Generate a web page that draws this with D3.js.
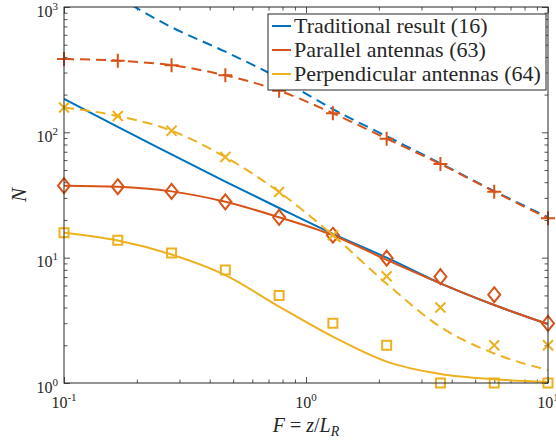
<!DOCTYPE html>
<html><head><meta charset="utf-8">
<script src="https://cdn.jsdelivr.net/npm/d3@7"></script>
<style>
html,body{margin:0;padding:0;background:#fff;}
svg text{font-family:"Liberation Serif","Times New Roman","DejaVu Serif",serif !important;fill:#262626;}
</style></head>
<body><div id="chart"></div>
<script>
// ---- data ----
const F = [0.1, 0.1668, 0.2783, 0.4642, 0.7743, 1.2915, 2.1544, 3.5938, 5.9948, 10];
const tradSolid   = [185, 110.5, 66.7, 40.4, 24.9, 15.5, 10.0, 6.24, 4.19, 2.95];
const tradDashedF = [0.1668, 0.2783, 0.4642, 0.7743, 1.2915, 2.1544, 3.5938, 5.9948, 10];
const tradDashed  = [1200, 690, 440, 270, 153, 93, 56.5, 34, 21];
const parSolid    = [37.5, 36.8, 33.8, 27.9, 21.0, 15.1, 9.6, 6.24, 4.19, 2.95];
const parDashed   = [385, 373, 343, 285, 215, 142, 89, 55.8, 33.6, 20.6];
const parDiamond  = [37.5, 36.8, 33.8, 27.9, 21.0, 15.1, 9.9, 7.05, 5.06, 2.99];
const parPlus     = [385, 373, 343, 285, 215, 142, 89, 55.8, 33.6, 20.6];
const perpSolid   = [15.8, 13.7, 10.6, 7.26, 4.07, 2.34, 1.48, 1.18, 1.07, 1.02];
const perpDashed  = [158, 135, 103, 63.5, 33.4, 15.1, 6.2, 2.8, 1.72, 1.27];
const perpSquare  = [15.8, 13.8, 10.9, 7.96, 5.0, 3.0, 2.0, 1.0, 1.0, 1.0];
const perpCross   = [158, 135, 103, 63.5, 33.4, 15.1, 7.1, 4.0, 2.0, 2.0];
const legendLabels = ["Traditional result (16)", "Parallel antennas (63)", "Perpendicular antennas (64)"];
const xTickExp = [-1, 0, 1];
const yTickExp = [0, 1, 2, 3];

const colors = ["#0072BD", "#D95319", "#EDB120"];
const W = 556, H = 440;
const L = 64, R = 548, T = 7, B = 383;
const FONT = '"Liberation Serif","Times New Roman","DejaVu Serif",serif';

const svg = d3.select("#chart").append("svg").attr("width", W).attr("height", H)
  .attr("font-family", FONT);
const x = d3.scaleLog().domain([0.1, 10]).range([L, R]);
const y = d3.scaleLog().domain([1, 1000]).range([B, T]);

svg.append("defs").append("clipPath").attr("id", "clip")
  .append("rect").attr("x", L).attr("y", T).attr("width", R - L).attr("height", B - T);

const majX = xTickExp.map(e => Math.pow(10, e));
const minX = [];
[0.1, 1].forEach(d => { for (let k = 2; k <= 9; k++) minX.push(d * k); });
const majY = yTickExp.map(e => Math.pow(10, e));
const minY = [];
[1, 10, 100].forEach(d => { for (let k = 2; k <= 9; k++) minY.push(d * k); });

function axisGroup(axis, tx, ty) {
  const g = svg.append("g").attr("transform", `translate(${tx},${ty})`).call(axis);
  g.selectAll("text").remove();
  g.select(".domain").remove();
  g.selectAll("line").attr("stroke", "#262626").attr("stroke-width", 0.8);
  return g;
}
const MJ = 6, MN = 3.5;
axisGroup(d3.axisBottom(x).tickValues(majX).tickSize(-MJ), 0, B);
axisGroup(d3.axisBottom(x).tickValues(minX).tickSize(-MN), 0, B);
axisGroup(d3.axisTop(x).tickValues(majX).tickSize(-MJ), 0, T);
axisGroup(d3.axisTop(x).tickValues(minX).tickSize(-MN), 0, T);
axisGroup(d3.axisLeft(y).tickValues(majY).tickSize(-MJ), L, 0);
axisGroup(d3.axisLeft(y).tickValues(minY).tickSize(-MN), L, 0);
axisGroup(d3.axisRight(y).tickValues(majY).tickSize(-MJ), R, 0);
axisGroup(d3.axisRight(y).tickValues(minY).tickSize(-MN), R, 0);

const line = d3.line().x(d => x(d[0])).y(d => y(d[1])).curve(d3.curveMonotoneX);
const plot = svg.append("g").attr("clip-path", "url(#clip)");
function drawLine(xs, ys, color, dashed) {
  plot.append("path").datum(xs.map((v, i) => [v, ys[i]]))
    .attr("d", line).attr("fill", "none").attr("stroke", color)
    .attr("stroke-width", 2).attr("stroke-dasharray", dashed ? "10,6" : null);
}
drawLine(F, tradSolid, colors[0], false);
drawLine(tradDashedF, tradDashed, colors[0], true);
drawLine(F, parSolid, colors[1], false);
drawLine(F, parDashed, colors[1], true);
drawLine(F, perpSolid, colors[2], false);
drawLine(F, perpDashed, colors[2], true);

const mk = svg.append("g").attr("fill", "none").attr("stroke-width", 2);
function markers(vals, color, shape) {
  vals.forEach((v, i) => {
    const cx = x(F[i]), cy = y(v);
    let p;
    if (shape === "diamond") p = `M${cx},${cy-7.5}L${cx+6},${cy}L${cx},${cy+7.5}L${cx-6},${cy}Z`;
    else if (shape === "plus") p = `M${cx-7},${cy}H${cx+7}M${cx},${cy-7}V${cy+7}`;
    else if (shape === "square") p = `M${cx-4.5},${cy-4.5}H${cx+4.5}V${cy+4.5}H${cx-4.5}Z`;
    else p = `M${cx-5},${cy-5}L${cx+5},${cy+5}M${cx-5},${cy+5}L${cx+5},${cy-5}`;
    mk.append("path").attr("d", p).attr("stroke", color);
  });
}
markers(parDiamond, colors[1], "diamond");
markers(parPlus, colors[1], "plus");
markers(perpSquare, colors[2], "square");
markers(perpCross, colors[2], "cross");

svg.append("rect").attr("x", L).attr("y", T).attr("width", R - L).attr("height", B - T)
  .attr("fill", "none").attr("stroke", "#262626").attr("stroke-width", 1);

xTickExp.forEach(e => {
  const t = svg.append("text").attr("x", x(Math.pow(10, e))).attr("y", 408)
    .attr("text-anchor", "middle").attr("font-size", 16).attr("font-family", FONT);
  t.append("tspan").text("10");
  t.append("tspan").attr("font-size", 11).attr("dy", -7).text(e < 0 ? "-" + (-e) : String(e));
});
yTickExp.forEach(e => {
  const t = svg.append("text").attr("x", 58).attr("y", y(Math.pow(10, e)) + 9.5)
    .attr("text-anchor", "end").attr("font-size", 16).attr("font-family", FONT);
  t.append("tspan").text("10");
  t.append("tspan").attr("font-size", 11).attr("dy", -7).text(String(e));
});

svg.append("text").attr("transform", `translate(26,${(T + B) / 2}) rotate(-90)`)
  .attr("text-anchor", "middle").attr("font-size", 21).attr("font-style", "italic")
  .attr("font-family", FONT).text("N");
const xl = svg.append("text").attr("x", (L + R) / 2).attr("y", 432)
  .attr("text-anchor", "middle").attr("font-size", 20).attr("font-family", FONT);
xl.append("tspan").attr("font-style", "italic").text("F");
xl.append("tspan").text(" = ");
xl.append("tspan").attr("font-style", "italic").text("z");
xl.append("tspan").text("/");
xl.append("tspan").attr("font-style", "italic").text("L");
xl.append("tspan").attr("font-style", "italic").attr("font-size", 14).attr("dy", 4).text("R");

const lg = svg.append("g");
lg.append("rect").attr("x", 268).attr("y", 14).attr("width", 278).attr("height", 76)
  .attr("fill", "#fff").attr("stroke", "#262626").attr("stroke-width", 1);
legendLabels.forEach((lab, i) => {
  const cy = 26 + i * 24;
  lg.append("line").attr("x1", 272).attr("x2", 291).attr("y1", cy).attr("y2", cy)
    .attr("stroke", colors[i]).attr("stroke-width", 2);
  lg.append("text").attr("x", 294).attr("y", cy + 7).attr("font-size", 22)
    .attr("font-family", FONT).text(lab);
});
</script></body></html>
